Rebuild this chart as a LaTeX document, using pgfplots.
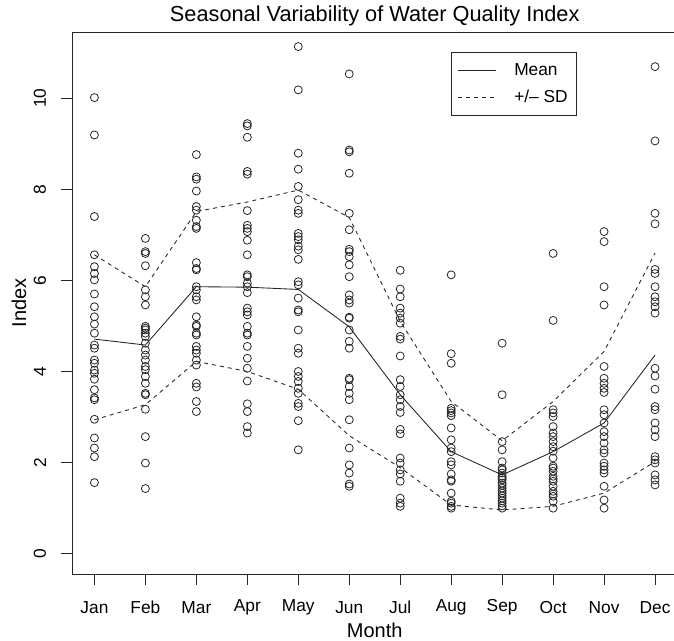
\documentclass[border=0pt]{standalone}
\usepackage{fontspec}
\setmainfont{Liberation Sans}
\usepackage{pgfplots}
\pgfplotsset{compat=1.18}
\begin{document}
\begin{tikzpicture}
\begin{axis}[
  scale only axis,
  width=454.1pt, height=406.5pt,
  xmin=0.56, xmax=12.44, ymin=-0.445, ymax=11.45,
  xtick={1,2,3,4,5,6,7,8,9,10,11,12},
  xticklabels={Jan,Feb,Mar,Apr,May,Jun,Jul,Aug,Sep,Oct,Nov,Dec},
  ytick={0,2,4,6,8,10},
  xtick pos=lower, ytick pos=left,
  tick align=outside,
  major tick length=8pt,
  tick style={black!85, line width=0.65pt},
  axis line style={black!85, line width=0.65pt},
  /pgf/number format/assume math mode=true,
  ticklabel style={font=\fontsize{13}{13}\selectfont},
  xticklabel style={anchor=center, yshift=-17pt},
  yticklabel style={anchor=center, xshift=-16pt, rotate=90},
  title={Seasonal Variability of Water Quality Index},
  title style={font=\fontsize{16.3}{16.3}\selectfont, at={(axis description cs:0.5,1)}, anchor=base, yshift=2pt},
  xlabel={Month},
  xlabel style={font=\fontsize{15}{15}\selectfont, at={(axis description cs:0.5,0)}, anchor=center, yshift=-42pt},
  ylabel={Index},
  ylabel style={font=\fontsize{15}{15}\selectfont, at={(axis description cs:-0.0875,0.5)}, anchor=center},
  legend style={at={(axis description cs:0.834,0.963)}, anchor=north east, draw=black!85, line width=0.65pt,
    font=\fontsize{13}{13}\selectfont, inner xsep=4.6pt, inner ysep=6.5pt, row sep=5pt,
    /tikz/every even column/.append style={column sep=0pt}},
  legend cell align=left,
  legend image code/.code={\draw[#1] (0pt,0pt) -- (29pt,0pt); \path (40pt,0pt);},
]
% mean and SD lines
\addplot[black!85, line width=0.65pt] coordinates {(1,4.71) (2,4.58) (3,5.86) (4,5.85) (5,5.80) (6,4.98) (7,3.49) (8,2.24) (9,1.73) (10,2.24) (11,2.87) (12,4.36)};
\addlegendentry{Mean}
\addplot[black!85, line width=0.65pt, dash pattern=on 3pt off 3pt] coordinates {(1,6.56) (2,5.86) (3,7.51) (4,7.72) (5,7.98) (6,7.38) (7,5.10) (8,3.34) (9,2.48) (10,3.34) (11,4.44) (12,6.60)};
\addlegendentry{+/-- SD}
\addplot[black!85, line width=0.65pt, dash pattern=on 3pt off 3pt, forget plot] coordinates {(1,2.94) (2,3.27) (3,4.22) (4,4.00) (5,3.61) (6,2.59) (7,1.89) (8,1.07) (9,0.96) (10,1.04) (11,1.33) (12,2.02)};
% data points
\addplot[only marks, mark=o, mark size=3pt, black!85, mark options={line width=0.6pt}, forget plot] table {
x y
1 10.01
1 9.19
1 7.40
1 6.56
1 6.30
1 6.15
1 6.01
1 5.70
1 5.42
1 5.20
1 5.04
1 4.84
1 4.58
1 4.51
1 4.25
1 4.18
1 4.03
1 3.96
1 3.83
1 3.60
1 3.42
1 3.38
1 2.95
1 2.54
1 2.32
1 2.13
1 1.56
2 6.92
2 6.63
2 6.59
2 6.32
2 5.79
2 5.64
2 5.46
2 4.99
2 4.95
2 4.91
2 4.84
2 4.77
2 4.62
2 4.47
2 4.36
2 4.25
2 4.11
2 4.04
2 3.89
2 3.74
2 3.52
2 3.49
2 3.17
2 2.57
2 1.99
2 1.43
3 8.76
3 8.27
3 8.22
3 7.96
3 7.62
3 7.54
3 7.32
3 7.18
3 7.14
3 6.39
3 6.26
3 6.23
3 5.86
3 5.79
3 5.64
3 5.57
3 5.20
3 5.02
3 4.99
3 4.84
3 4.80
3 4.55
3 4.47
3 4.40
3 4.25
3 4.14
3 3.74
3 3.66
3 3.34
3 3.12
4 9.44
4 9.39
4 9.14
4 8.39
4 8.33
4 7.53
4 7.21
4 7.14
4 7.07
4 6.88
4 6.56
4 6.12
4 6.08
4 5.94
4 5.86
4 5.73
4 5.39
4 5.31
4 5.24
4 4.99
4 4.84
4 4.80
4 4.55
4 4.29
4 4.07
4 3.79
4 3.29
4 3.12
4 2.79
4 2.65
5 11.13
5 10.18
5 8.79
5 8.44
5 8.06
5 7.77
5 7.54
5 7.47
5 7.03
5 6.96
5 6.89
5 6.75
5 6.67
5 6.46
5 5.97
5 5.90
5 5.61
5 5.35
5 5.31
5 4.91
5 4.51
5 4.40
5 4.00
5 3.89
5 3.78
5 3.63
5 3.52
5 3.30
5 3.23
5 2.92
5 2.28
6 10.53
6 8.86
6 8.82
6 8.35
6 7.47
6 7.11
6 6.68
6 6.63
6 6.52
6 6.34
6 6.08
6 5.68
6 5.57
6 5.50
6 5.19
6 5.17
6 4.91
6 4.66
6 4.51
6 3.85
6 3.82
6 3.67
6 3.52
6 3.38
6 2.94
6 2.32
6 1.95
6 1.77
6 1.53
6 1.48
7 6.22
7 5.81
7 5.64
7 5.39
7 5.28
7 5.17
7 5.06
7 4.77
7 4.71
7 4.34
7 3.82
7 3.67
7 3.49
7 3.38
7 3.23
7 3.10
7 2.73
7 2.63
7 2.10
7 1.99
7 1.84
7 1.75
7 1.59
7 1.22
7 1.11
7 1.04
8 6.12
8 4.39
8 4.18
8 3.19
8 3.14
8 3.09
8 3.03
8 2.76
8 2.50
8 2.32
8 2.24
8 2.02
8 1.95
8 1.75
8 1.62
8 1.59
8 1.33
8 1.15
8 1.11
8 1.04
8 1.00
9 4.62
9 3.49
9 2.46
9 2.28
9 2.02
9 1.88
9 1.84
9 1.77
9 1.70
9 1.66
9 1.62
9 1.55
9 1.50
9 1.44
9 1.38
9 1.33
9 1.27
9 1.22
9 1.16
9 1.11
9 1.05
9 1.00
10 6.59
10 5.12
10 3.16
10 3.09
10 3.01
10 2.79
10 2.65
10 2.57
10 2.46
10 2.35
10 2.25
10 2.10
10 1.92
10 1.88
10 1.81
10 1.70
10 1.64
10 1.59
10 1.48
10 1.37
10 1.31
10 1.26
10 1.15
10 1.00
11 7.07
11 6.85
11 5.86
11 5.46
11 4.11
11 3.85
11 3.74
11 3.63
11 3.54
11 3.16
11 3.05
11 2.87
11 2.68
11 2.57
11 2.43
11 2.28
11 2.21
11 1.99
11 1.92
11 1.84
11 1.77
11 1.48
11 1.18
11 1.00
12 10.69
12 9.06
12 7.47
12 7.24
12 6.24
12 6.15
12 5.86
12 5.64
12 5.53
12 5.42
12 5.28
12 4.07
12 3.90
12 3.61
12 3.23
12 3.16
12 2.87
12 2.72
12 2.57
12 2.13
12 2.06
12 1.99
12 1.73
12 1.62
12 1.51
};
\coordinate (O) at (rel axis cs:0,0);
\end{axis}
\pgfresetboundingbox
\useasboundingbox ([xshift=-54pt,yshift=-49.5pt]O) rectangle ([xshift=451.5pt,yshift=430.5pt]O);
\end{tikzpicture}
\end{document}
